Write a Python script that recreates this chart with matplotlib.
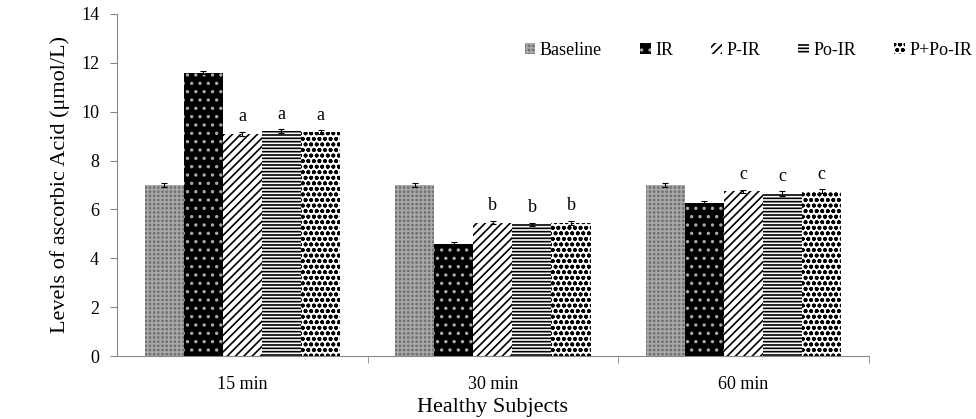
import numpy as np
import matplotlib.pyplot as plt

plt.rcParams['font.family'] = ['Liberation Serif', 'DejaVu Serif']
plt.rcParams['hatch.linewidth'] = 1.2

# data
groups = ["15 min", "30 min", "60 min"]
series = ["Baseline", "IR", "P-IR", "Po-IR", "P+Po-IR"]
baseline = [7.0, 7.0, 7.0]
ir = [11.6, 4.6, 6.25]
p_ir = [9.1, 5.45, 6.75]
po_ir = [9.2, 5.4, 6.65]
ppo_ir = [9.15, 5.45, 6.75]
errs = [[0.08, 0.08, 0.08], [0.08, 0.08, 0.08], [0.08, 0.06, 0.06],
        [0.07, 0.06, 0.12], [0.08, 0.08, 0.08]]
letters = ["a", "b", "c"]

values = [baseline, ir, p_ir, po_ir, ppo_ir]
faces = ["#707070", "black", "white", "white", "white"]
hatch_cols = ["#a8a8a8", "#aaaaaa", "black", "black", "black"]
hatches = ["++++", "..", "////", "-----", "ooo"]

fig = plt.figure(figsize=(9.76, 4.19), dpi=100)
ax = fig.add_axes([0.12, 0.15, 0.77, 0.817])

x = np.arange(len(groups))
w = 0.156
for i, name in enumerate(series):
    pos = x + (i - 2) * w
    ax.bar(pos, values[i], w, color=faces[i], edgecolor=hatch_cols[i],
           hatch=hatches[i], linewidth=0, label=name)
    ax.errorbar(pos, values[i], yerr=errs[i], fmt="none", ecolor="black",
                elinewidth=0.8, capsize=2.5, capthick=0.8)
    if i >= 2:
        for j in range(len(groups)):
            ax.text(pos[j], values[i][j] + 0.35, letters[j], ha="center",
                    va="bottom", fontsize=13)

ax.set_xlim(-0.5, 2.5)
ax.set_ylim(0, 14)
ax.set_yticks(range(0, 15, 2))
ax.set_xticks(x)
ax.set_xticklabels(groups)
ax.set_xticks([0.5, 1.5, 2.5], minor=True)
ax.tick_params(axis="x", which="major", length=0, labelsize=13, pad=14)
ax.tick_params(axis="x", which="minor", length=5, color="#888888")
ax.tick_params(axis="y", length=5, color="#888888", labelsize=13, pad=8)
for s in ["top", "right"]:
    ax.spines[s].set_visible(False)
for s in ["left", "bottom"]:
    ax.spines[s].set_color("#888888")

ax.set_ylabel("Levels of ascorbic Acid (\u03bcmol/L)", fontsize=16, labelpad=8)
ax.set_xlabel("Healthy Subjects", fontsize=16, labelpad=4)

ax.legend(loc="upper right", bbox_to_anchor=(1.16, 0.965), ncol=5, frameon=False,
          fontsize=13, handlelength=0.6, handleheight=0.6, handletextpad=0.25,
          columnspacing=2.1)

fig.savefig("out.png", dpi=100)
